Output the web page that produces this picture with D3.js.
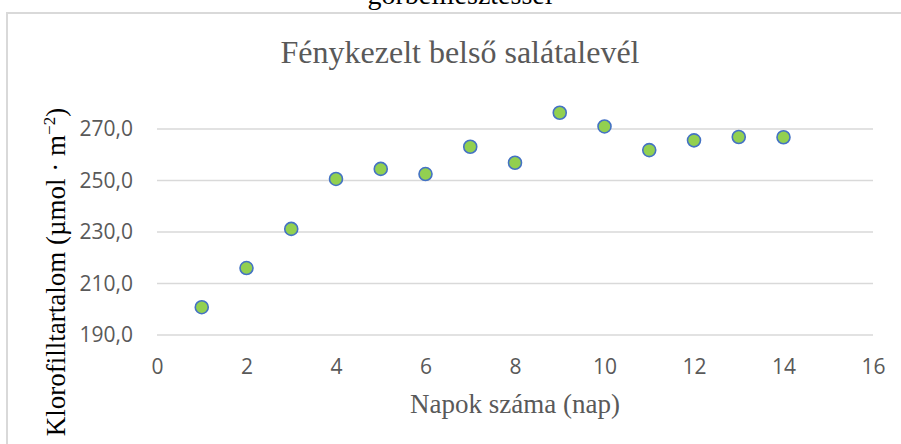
<!DOCTYPE html>
<html>
<head>
<meta charset="utf-8">
<script src="https://cdn.jsdelivr.net/npm/d3@7"></script>
<style>
  html, body { margin: 0; padding: 0; background: #fff; }
  svg { display: block; }
</style>
</head>
<body>
<svg id="chart" width="901" height="444"></svg>
<script>
const days = [1, 2, 3, 4, 5, 6, 7, 8, 9, 10, 11, 12, 13, 14];
const chlorophyll = [200.8, 216.0, 231.2, 250.6, 254.5, 252.5, 263.1, 256.9, 276.3, 271.0, 261.8, 265.6, 266.9, 266.8];
const xTicks = [0, 2, 4, 6, 8, 10, 12, 14, 16];
const yTicks = [190, 210, 230, 250, 270];
const chartTitle = "Fénykezelt belső salátalevél";
const pageTitle = "görbeillesztéssel";
const xTitle = "Napok száma (nap)";

const svg = d3.select("#chart");
const W = 901, H = 444;

// outer chart border (top and left visible)
svg.append("path")
  .attr("d", `M7,${H + 5} L7,13 L${W + 5},13`)
  .attr("fill", "none").attr("stroke", "#D9D9D9").attr("stroke-width", 2);

// cut-off page heading
svg.append("text")
  .attr("x", 460).attr("y", 4)
  .attr("text-anchor", "middle")
  .attr("font-family", "Liberation Serif, Times New Roman, serif")
  .attr("font-size", 28).attr("fill", "#000")
  .text(pageTitle);

const x = d3.scaleLinear().domain([0, 16]).range([157, 873]);
const y = d3.scaleLinear().domain([190, 270]).range([335, 129]);

// gridlines
svg.append("g")
  .selectAll("line").data(yTicks).join("line")
  .attr("x1", x(0)).attr("x2", x(16))
  .attr("y1", d => y(d)).attr("y2", d => y(d))
  .attr("stroke", "#D9D9D9").attr("stroke-width", 1.5);

// y axis labels
const yAxis = d3.axisLeft(y).tickValues(yTicks).tickSize(0).tickPadding(0)
  .tickFormat(d => d3.format(".1f")(d).replace(".", ","));
const gy = svg.append("g").attr("transform", "translate(133,0)").call(yAxis);
gy.select(".domain").remove();
gy.selectAll("text")
  .attr("font-family", "Open Sans, sans-serif")
  .attr("font-size", 21).attr("fill", "#595959");

// x axis labels
const xAxis = d3.axisBottom(x).tickValues(xTicks).tickSize(0).tickPadding(0)
  .tickFormat(d3.format("d"));
const gx = svg.append("g").attr("transform", "translate(0,359)").call(xAxis);
gx.select(".domain").remove();
gx.selectAll("text")
  .attr("font-family", "Open Sans, sans-serif")
  .attr("font-size", 21).attr("fill", "#595959");

// chart title
svg.append("text")
  .attr("x", 460).attr("y", 63)
  .attr("text-anchor", "middle")
  .attr("font-family", "Liberation Serif, Times New Roman, serif")
  .attr("font-size", 32).attr("fill", "#595959")
  .text(chartTitle);

// x title
svg.append("text")
  .attr("x", 515).attr("y", 413)
  .attr("text-anchor", "middle")
  .attr("font-family", "Liberation Serif, Times New Roman, serif")
  .attr("font-size", 27).attr("fill", "#595959")
  .text(xTitle);

// y title with superscript
const yt = svg.append("text")
  .attr("transform", "translate(65,272) rotate(-90)")
  .attr("text-anchor", "middle")
  .attr("font-family", "Liberation Serif, Times New Roman, serif")
  .attr("font-size", 27).attr("fill", "#000");
yt.append("tspan").text("Klorofilltartalom (µmol · m");
yt.append("tspan").attr("dy", -10).attr("font-size", 17).text("−2");
yt.append("tspan").attr("dy", 10).text(")");

// points
svg.append("g")
  .selectAll("circle").data(days.map((d, i) => [d, chlorophyll[i]])).join("circle")
  .attr("cx", d => x(d[0])).attr("cy", d => y(d[1]))
  .attr("r", 6.5)
  .attr("fill", "#92D050").attr("stroke", "#4472C4").attr("stroke-width", 1.6);
</script>
</body>
</html>
